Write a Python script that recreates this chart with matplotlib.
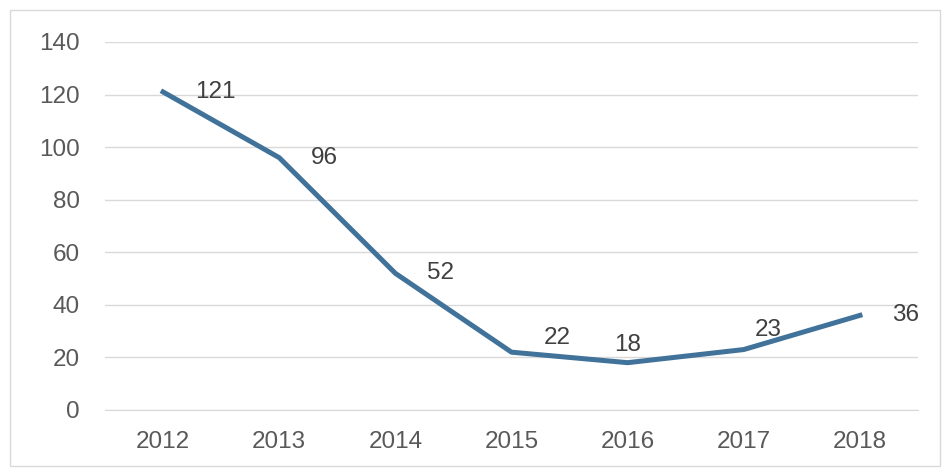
import matplotlib
matplotlib.use("Agg")
import matplotlib.pyplot as plt
from matplotlib.patches import Rectangle

years = ["2012", "2013", "2014", "2015", "2016", "2017", "2018"]
values = [121, 96, 52, 22, 18, 23, 36]
# label offsets (points) relative to each data point
label_dx = [23, 23, 23, 23, 0, 8, 23]
label_dy = [0, 0, 0, 10, 13, 14, 0]

plt.rcParams['font.family'] = ['Liberation Sans', 'DejaVu Sans']

fig = plt.figure(figsize=(9.5, 4.72), dpi=100)
ax = fig.add_axes([105 / 950, 1 - 410 / 472, 813 / 950, 368 / 472])

x = list(range(len(years)))
ax.plot(x, values, color='#41729A', linewidth=3.6, solid_joinstyle='round', zorder=3)

for i, v in enumerate(values):
    ax.annotate(str(v), (x[i], v), xytext=(label_dx[i], label_dy[i]),
                textcoords='offset points', ha='left' if label_dx[i] else 'center',
                va='center', fontsize=17.5, color='#404040', zorder=4)

ax.set_xlim(-0.5, 6.5)
ax.set_ylim(0, 140)
ax.set_yticks(range(0, 141, 20))
ax.set_xticks(x)
ax.set_xticklabels(years)
ax.grid(axis='y', color='#D9D9D9', linewidth=1)
ax.set_axisbelow(True)
for s in ['top', 'right', 'left']:
    ax.spines[s].set_visible(False)
ax.spines['bottom'].set_color('#D9D9D9')
ax.tick_params(length=0, labelsize=17.5, colors='#595959')
ax.tick_params(axis='y', pad=18)
ax.tick_params(axis='x', pad=15)

# outer chart border
fig.patches.append(Rectangle((10 / 950, 1 - 466 / 472), 930 / 950, 456 / 472,
                             transform=fig.transFigure, fill=False,
                             edgecolor='#D9D9D9', linewidth=1))

fig.savefig('out.png', dpi=100)
